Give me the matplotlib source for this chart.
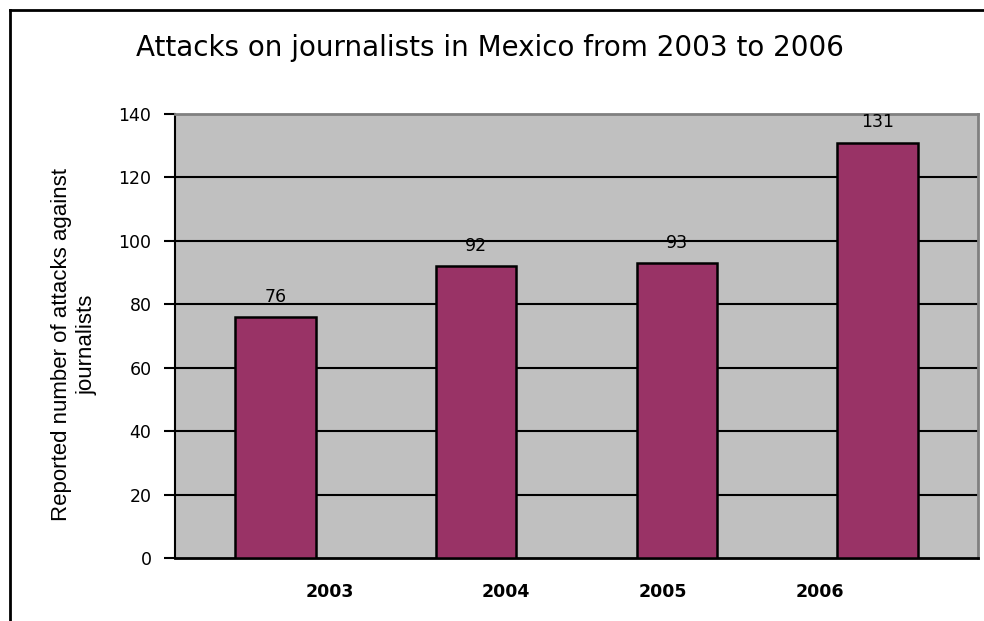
import matplotlib
matplotlib.use("Agg")
import matplotlib.pyplot as plt
from matplotlib.lines import Line2D

years = ["2003", "2004", "2005", "2006"]
attacks = [76, 92, 93, 131]
yticks = [0, 20, 40, 60, 80, 100, 120, 140]
# observed (offset) x positions of category labels, in category units
label_pos = [0.77, 1.65, 2.43, 3.21]

narrow = ["Liberation Sans Narrow", "DejaVu Sans Condensed", "Liberation Sans", "DejaVu Sans"]

fig = plt.figure(figsize=(9.84, 6.21), dpi=100)
ax = fig.add_axes([175/984, 63/621, 803/984, 444/621])
ax.set_facecolor("#C0C0C0")

x = [i + 0.5 for i in range(len(years))]
ax.bar(x, attacks, width=0.4, color="#993366", edgecolor="black", linewidth=1.8, zorder=3)
for xi, v in zip(x, attacks):
    ax.text(xi, v + 3.5, str(v), ha="center", va="bottom", fontsize=12.5,
            family="DejaVu Sans", zorder=4)

ax.set_xlim(0, 4)
ax.set_ylim(0, 140)
ax.set_yticks(yticks)
ax.set_yticklabels([str(t) for t in yticks], fontsize=12.5, family="DejaVu Sans")
ax.tick_params(axis="y", length=8, width=1.5, pad=9)
ax.set_xticks(label_pos)
ax.set_xticklabels(years, fontsize=12.5, fontweight="bold", family="DejaVu Sans")
ax.tick_params(axis="x", length=0, pad=18)
for t in yticks[1:-1]:
    ax.axhline(t, color="black", linewidth=1.5, zorder=1)

ax.spines["left"].set_linewidth(1.5)
ax.spines["bottom"].set_linewidth(2)
ax.spines["top"].set_color("#808080")
ax.spines["right"].set_color("#808080")
ax.spines["top"].set_linewidth(2)
ax.spines["right"].set_linewidth(2)

ax.set_ylabel("Reported number of attacks against\njournalists", fontsize=16,
              family=narrow, linespacing=1.3)
ax.yaxis.set_label_coords(-0.096, 0.48)

fig.text(490/984, 1 - 48/621, "Attacks on journalists in Mexico from 2003 to 2006",
         ha="center", va="center", fontsize=20, family="DejaVu Sans")

# figure frame lines (left and top)
fig.add_artist(Line2D([10/984, 10/984], [0, 1 - 10/621], color="black", linewidth=2,
                      transform=fig.transFigure))
fig.add_artist(Line2D([10/984, 1], [1 - 10/621, 1 - 10/621], color="black", linewidth=2,
                      transform=fig.transFigure))

fig.savefig("out.png", dpi=100)
